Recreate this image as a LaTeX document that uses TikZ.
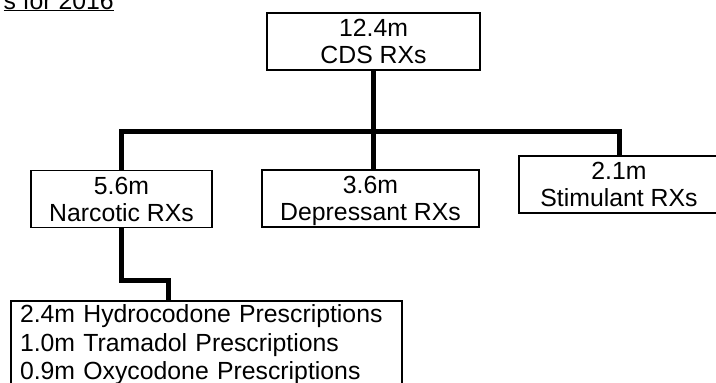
\documentclass[tikz,border=0pt]{standalone}
\usepackage{fontspec}
\setmainfont{Liberation Sans}
\usetikzlibrary{positioning}

\begin{document}
\begin{tikzpicture}[x=1pt,y=-1pt,
	box/.style={draw,line width=1.3pt,inner sep=0pt,minimum height=57pt,
		align=center,font=\fontsize{24.8}{27}\selectfont},
	rx box/.style={box,text depth=0pt},
	link/.style={line width=5pt}]
	\useasboundingbox (0,0) rectangle (716,383);
	
	\node[anchor=base east,inner sep=0pt,font=\fontsize{24.8}{27}\selectfont] (title) at (114,9) {\underline{s for 2016}};
	
	\node[rx box,minimum width=213pt] (cds) at (373.5,41.5) {12.4m\\CDS RXs};
	\node[rx box,minimum width=181pt] (narc) at (121.5,199) {5.6m\\Narcotic RXs};
	\node[rx box,minimum width=217pt] (depr) at (370.5,198.5) {3.6m\\Depressant RXs};
	\node[rx box,minimum width=200pt] (stim) at (619,184.5) {2.1m\\Stimulant RXs};
	\node[box,align=left,inner xsep=9pt,text width=373pt,minimum height=88pt,
		font=\fontsize{24.8}{28.5}\selectfont] (list) at (206.5,345)
		{2.4m Hydrocodone Prescriptions\\1.0m Tramadol Prescriptions\\0.9m Oxycodone Prescriptions};
	\coordinate (elbow) at (168,280);
	
	\draw[link] (cds.south) -- (cds.south |- depr.north);
	\draw[link] (narc.north) -- ++(0,-38) -| (stim.north);
	\draw[link] (narc.south) |- (elbow) -- (elbow |- list.north);
\end{tikzpicture}
\end{document}
